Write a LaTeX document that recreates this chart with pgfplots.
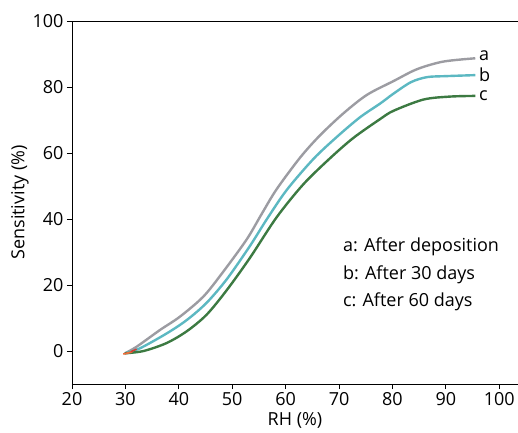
\documentclass[border=0pt]{standalone}
\usepackage{fontspec}
\setmainfont{Open Sans}
\usepackage{pgfplots}
\pgfplotsset{compat=1.18}
\definecolor{cA}{RGB}{156,156,162}
\definecolor{cB}{RGB}{92,184,194}
\definecolor{cC}{RGB}{60,122,66}
\definecolor{cD}{RGB}{235,110,60}
\definecolor{cE}{RGB}{215,60,50}
\begin{document}
\begin{tikzpicture}
\begin{axis}[
  name=ax,
  scale only axis,
  width=446pt, height=363pt,
  xmin=20, xmax=103.5, ymin=-10, ymax=100,
  axis x line=box, axis y line=left,
  axis line style={-, line width=0.9pt},
  xtick={20,30,...,100}, ytick={0,20,...,100},
  xtick pos=bottom, ytick pos=left,
  tick align=outside, major tick length=5pt,
  tick style={line width=0.9pt, black},
  font=\fontsize{18}{21}\selectfont,
  /pgf/number format/assume math mode=true,
  xlabel={RH (\%)}, ylabel={Sensitivity (\%)},
  xlabel style={yshift=0pt},
  ylabel style={yshift=-3pt},
  clip=false,
]
\addplot[cA, line width=2.4pt, smooth] coordinates {
(29.9,-0.7)(32.1,1.3)(36.5,6.4)(40.2,10.4)(44.6,16.5)(48.3,24.0)(52.7,33.8)
(55.5,41.5)(58.3,49.0)(62.7,58.6)(66.4,65.3)(70.8,72.0)(75.2,77.6)(80.2,81.8)
(84.6,85.4)(89.5,87.7)(95.5,88.7)};
\addplot[cB, line width=2.4pt, smooth] coordinates {
(29.9,-0.7)(32.7,0.8)(37.7,5.3)(41.5,9.4)(45.2,14.6)(49.0,21.8)(53.3,31.8)
(56.5,40.0)(60.2,48.8)(65.2,58.2)(69.6,64.9)(73.9,70.8)(77.7,75.0)(80.2,78.0)
(83.5,81.5)(86.5,83.0)(90.1,83.3)(95.5,83.6)};
\addplot[cC, line width=2.4pt, smooth] coordinates {
(29.9,-0.7)(33.4,0.0)(37.7,2.4)(41.5,6.0)(45.2,11.0)(49.0,18.5)(53.3,28.2)
(58.3,40.5)(63.3,50.5)(68.3,58.4)(72.7,64.6)(77.7,70.3)(80.2,72.8)(85.8,76.2)
(90.8,77.1)(95.5,77.3)};
\addplot[cD, line width=1.8pt, smooth] coordinates {
(29.6,-0.9)(30.5,-0.6)(31.3,-0.2)};
\addplot[cE, line width=1.5pt, smooth] coordinates {
(31.0,-0.2)(31.6,0.2)(32.1,0.6)};
\node[anchor=west, inner sep=0pt] at (axis cs:96.2,89.6) {a};
\node[anchor=west, inner sep=0pt] at (axis cs:96.2,83.6) {b};
\node[anchor=west, inner sep=0pt] at (axis cs:96.2,77.3) {c};
\node[anchor=west, inner sep=0pt] at (axis cs:70.7,31.5) {a: After deposition};
\node[anchor=west, inner sep=0pt] at (axis cs:70.7,23.1) {b: After 30 days};
\node[anchor=west, inner sep=0pt] at (axis cs:70.7,14.8) {c: After 60 days};
\end{axis}
\pgfresetboundingbox
\path (ax.south west) ++(-72pt,-48pt) rectangle ++(518pt,432pt);
\end{tikzpicture}
\end{document}
